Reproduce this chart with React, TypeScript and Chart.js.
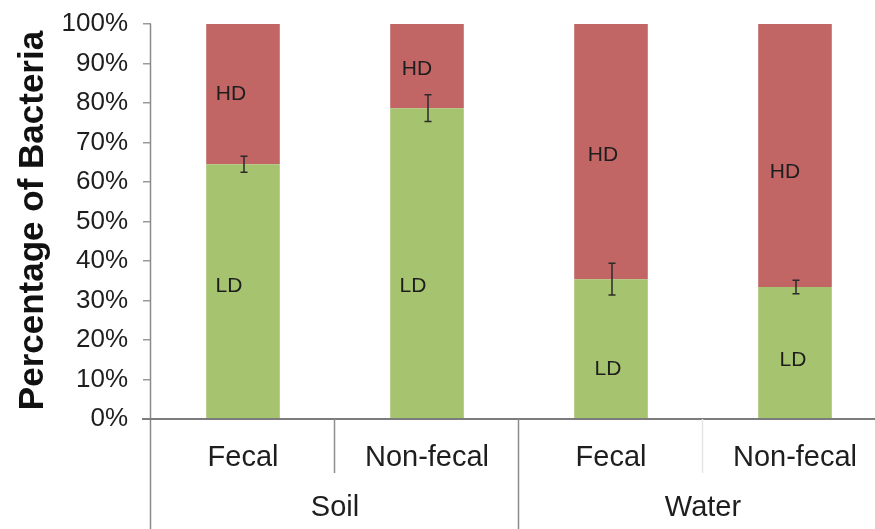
import React, { useEffect, useRef } from "react";
import { Chart, registerables } from "chart.js";

Chart.register(...registerables);

// Bacteria split into low-density (LD) and high-density (HD) fractions, in %
const categories = ["Fecal", "Non-fecal", "Fecal", "Non-fecal"];
const groups = ["Soil", "Soil", "Water", "Water"];
const ldValues = [64.5, 78.7, 35.4, 33.4];
const hdValues = [35.5, 21.3, 64.6, 66.6];
const ldErrors = [2.0, 3.4, 4.0, 1.7];
const yTicks = [0, 10, 20, 30, 40, 50, 60, 70, 80, 90, 100];

// Where the in-bar "HD" / "LD" tags sit, as a percentage level on the y axis
const hdTagLevel = [82.3, 88.6, 66.9, 62.5];
const ldTagLevel = [33.5, 33.5, 12.5, 14.8];

const FONT = "'Liberation Sans', Arial, Helvetica, sans-serif";
const RED = "#c26565";
const GREEN = "#a6c36f";
const AXIS = "#8a8a8a";
const TEXT = "#1e1e1e";

// horizontal nudges (px) for the tags inside each bar
const hdTagShift = [-12, -10, -8, -10];
const ldTagShift = [-14, -14, -3, -2];

const decorations = {
  id: "decorations",
  afterDatasetsDraw(chart: any) {
    const { ctx, chartArea, scales } = chart;
    const y = scales.y;
    const ldMeta = chart.getDatasetMeta(0);
    const H = chart.height;
    const left = chartArea.left;
    const bottom = chartArea.bottom;
    const catW = (chartArea.right - chartArea.left) / categories.length;

    ctx.save();

    // error bars on the LD / HD boundary
    ctx.strokeStyle = "#2b2b2b";
    ctx.lineWidth = 1.5;
    ldValues.forEach((v, i) => {
      const bar = ldMeta.data[i];
      const x = Math.round(bar.x) + 1;
      const y1 = y.getPixelForValue(v + ldErrors[i]);
      const y2 = y.getPixelForValue(v - ldErrors[i]);
      ctx.beginPath();
      ctx.moveTo(x, y1);
      ctx.lineTo(x, y2);
      ctx.moveTo(x - 3.5, y1);
      ctx.lineTo(x + 3.5, y1);
      ctx.moveTo(x - 3.5, y2);
      ctx.lineTo(x + 3.5, y2);
      ctx.stroke();
    });

    // in-bar tags
    ctx.fillStyle = TEXT;
    ctx.font = `21px ${FONT}`;
    ctx.textAlign = "center";
    ctx.textBaseline = "middle";
    ldMeta.data.forEach((bar: any, i: number) => {
      ctx.fillText("HD", bar.x + hdTagShift[i], y.getPixelForValue(hdTagLevel[i]));
      ctx.fillText("LD", bar.x + ldTagShift[i], y.getPixelForValue(ldTagLevel[i]));
    });

    // y axis line, running down through the category rows
    ctx.strokeStyle = AXIS;
    ctx.lineWidth = 1.5;
    ctx.beginPath();
    ctx.moveTo(left - 0.5, chartArea.top);
    ctx.lineTo(left - 0.5, H);
    ctx.stroke();

    // x axis line
    ctx.lineWidth = 2;
    ctx.strokeStyle = "#7c7c7c";
    ctx.beginPath();
    ctx.moveTo(left - 9, bottom);
    ctx.lineTo(chart.width, bottom);
    ctx.stroke();

    // separators between categories and groups
    ctx.lineWidth = 1.5;
    for (let k = 1; k < categories.length; k++) {
      const x = Math.round(left + k * catW) - 0.5;
      const groupEdge = groups[k] !== groups[k - 1];
      ctx.strokeStyle = groupEdge ? AXIS : k === 1 ? "#8f8f8f" : "#e4e4e4";
      ctx.beginPath();
      ctx.moveTo(x, bottom);
      ctx.lineTo(x, groupEdge ? H : bottom + 54);
      ctx.stroke();
    }

    // category labels
    ctx.fillStyle = TEXT;
    ctx.font = `29px ${FONT}`;
    ctx.textBaseline = "middle";
    categories.forEach((c, i) => {
      ctx.fillText(c, left + (i + 0.5) * catW, bottom + 39);
    });

    // group labels
    const seen: string[] = [];
    groups.forEach((g) => {
      if (seen.includes(g)) return;
      seen.push(g);
      const first = groups.indexOf(g);
      const last = groups.lastIndexOf(g);
      const cx = left + ((first + last + 1) / 2) * catW;
      ctx.fillText(g, cx, bottom + 89);
    });

    // y axis title
    ctx.save();
    ctx.translate(43, (chartArea.top + bottom) / 2 - 1);
    ctx.rotate(-Math.PI / 2);
    ctx.font = `bold 35px ${FONT}`;
    ctx.textAlign = "center";
    ctx.textBaseline = "alphabetic";
    ctx.fillStyle = "#111";
    ctx.fillText("Percentage of Bacteria", 0, 0);
    ctx.restore();

    ctx.restore();
  },
};

export default function App() {
  const canvasRef = useRef<HTMLCanvasElement | null>(null);

  useEffect(() => {
    const canvas = canvasRef.current;
    if (!canvas) return;
    const chart = new Chart(canvas, {
      type: "bar",
      data: {
        labels: categories,
        datasets: [
          {
            label: "LD",
            data: ldValues,
            backgroundColor: GREEN,
            barPercentage: 0.4,
            categoryPercentage: 1,
          },
          {
            label: "HD",
            data: hdValues,
            backgroundColor: RED,
            barPercentage: 0.4,
            categoryPercentage: 1,
          },
        ],
      },
      options: {
        responsive: false,
        animation: false,
        devicePixelRatio: 1,
        layout: { padding: { top: 24, right: 13, bottom: 110, left: 0 } },
        plugins: {
          legend: { display: false },
          tooltip: { enabled: false },
        },
        scales: {
          x: {
            type: "category",
            stacked: true,
            display: false,
          },
          y: {
            stacked: true,
            min: 0,
            max: 100,
            afterFit(scale: any) {
              scale.width = 151;
              scale.paddingTop = 0;
              scale.paddingBottom = 0;
            },
            afterBuildTicks(scale: any) {
              scale.ticks = yTicks.map((v) => ({ value: v }));
            },
            border: { display: false },
            grid: {
              drawOnChartArea: false,
              drawTicks: true,
              tickLength: 8,
              color: "#9a9a9a",
              lineWidth: 1.5,
            },
            ticks: {
              padding: 15,
              color: TEXT,
              font: { family: FONT, size: 26 },
              callback: (v: any) => `${v}%`,
            },
          },
        },
      },
      plugins: [decorations],
    });
    return () => chart.destroy();
  }, []);

  return (
    <div
      style={{
        position: "fixed",
        left: 0,
        top: 0,
        width: 875,
        height: 529,
        overflow: "hidden",
        background: "#fff",
      }}
    >
      <canvas
        ref={canvasRef}
        width={900}
        height={529}
        style={{ display: "block", width: 900, height: 529 }}
      />
    </div>
  );
}
